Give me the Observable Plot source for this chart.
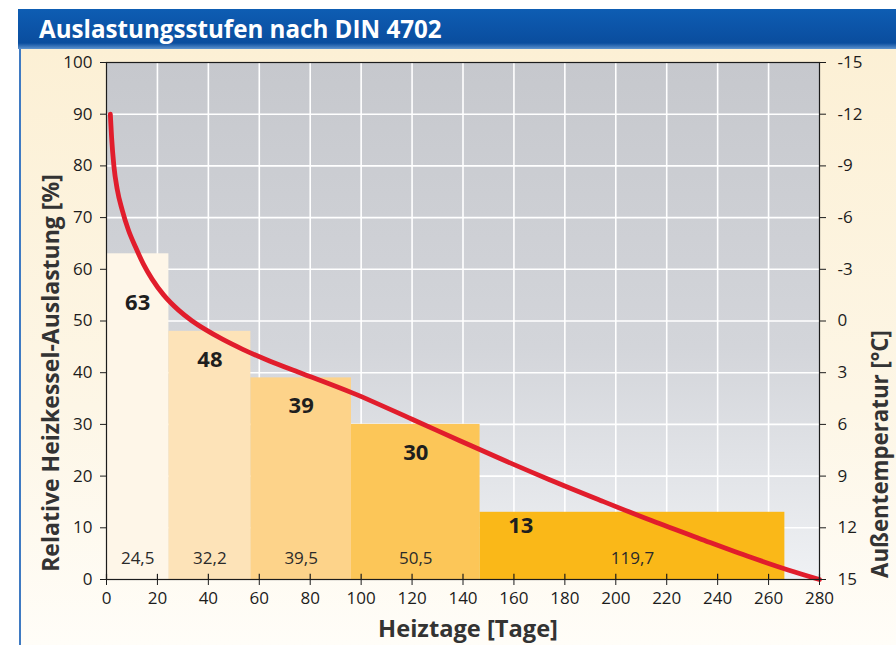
<!DOCTYPE html>
<html><head><meta charset="utf-8">
<script src="https://cdn.jsdelivr.net/npm/d3@7"></script>
<script src="https://cdn.jsdelivr.net/npm/@observablehq/plot@0.6"></script>
<style>
html,body{margin:0;padding:0;background:#fff;width:896px;height:645px;overflow:hidden;font-family:"Open Sans",sans-serif;}
#title{position:absolute;left:18px;top:9px;width:878px;height:40px;box-sizing:border-box;
  background:linear-gradient(#0e5db3,#0a4d9e 85%,#5d93cf);color:#fff;font-weight:700;
  line-height:39px;padding-left:21px;white-space:nowrap;}
#chart{position:absolute;left:19px;top:49px;width:877px;height:596px;border-left:2px solid #3f7ac2;}
#chart svg{display:block;}
</style></head>
<body>
<div id="title">Auslastungsstufen nach DIN 4702</div>
<div id="chart"></div>
<script>
// ---- data ----
const titleText = "Auslastungsstufen nach DIN 4702";
const xLabel = "Heiztage [Tage]";
const yLabel = "Relative Heizkessel-Auslastung [%]";
const y2Label = "Außentemperatur [°C]";
const barWidths = [24.5, 32.2, 39.5, 50.5, 119.7];   // Heiztage per stage
const barLoads  = [63, 48, 39, 30, 13];               // relative load %
const barColors = ["#fef6e8", "#fde3b8", "#fdd38a", "#fcc658", "#fab818"];
const xTicks = [0, 20, 40, 60, 80, 100, 120, 140, 160, 180, 200, 220, 240, 260, 280];
const yTicks = [0, 10, 20, 30, 40, 50, 60, 70, 80, 90, 100];
const tempTicks = [15, 12, 9, 6, 3, 0, -3, -6, -9, -12, -15];
const curveDays = [1.5, 2, 2.9, 4.2, 6.2, 8.6, 11.4, 14.5, 17.9, 22.5, 28.4, 33.5, 38.9, 45.5, 53.3, 64, 76, 97, 120, 139, 155, 174, 194, 214, 233, 253, 268, 280];
const curveLoad = [90, 85.5, 80, 75.5, 71.4, 67.6, 64.3, 61, 58.1, 55, 52.05, 50.06, 48.33, 46.48, 44.57, 42.27, 40, 36, 31, 26.8, 23.3, 19.3, 15.3, 11.4, 7.9, 4.3, 1.8, 0];

// ---- helpers ----
const tempToLoad = t => (15 - t) / 0.3;
const loadToTemp = y => Math.round(15 - 0.3 * y);
const ctx = document.createElement("canvas").getContext("2d");
function fitSize(text, target) {
  ctx.font = '700 100px "Open Sans"';
  return 100 * target / ctx.measureText(text).width;
}
let acc = 0;
const bars = barWidths.map((w, i) => {
  const b = {x1: acc, x2: acc + w, width: w, load: barLoads[i], color: barColors[i], i};
  acc += w; return b;
});
const curve = curveDays.map((d, i) => ({day: d, load: curveLoad[i]}));
const fmtDe = v => String(v).replace(".", ",");

const titleEl = document.getElementById("title");
titleEl.textContent = titleText;
titleEl.style.fontSize = fitSize(titleText, 403) + "px";

const W = 877, H = 596;
const plot = Plot.plot({
  width: W, height: H,
  marginLeft: 85, marginRight: 79, marginTop: 13, marginBottom: 66,
  style: {background: "linear-gradient(#fcf0d5, #fdf6e6 60%, #fffdf8)", color: "#1c1c1c", fontFamily: "'Open Sans', sans-serif", overflow: "visible"},
  x: {domain: [0, 280], axis: null},
  y: {domain: [0, 100], axis: null},
  color: {type: "identity"},
  marks: [
    Plot.frame({fill: "url(#plotbg)"}),
    Plot.ruleX(xTicks.filter(d => d > 0 && d < 280), {x: d => d, stroke: "#fff", strokeWidth: 1.6}),
    Plot.ruleY(yTicks.filter(d => d > 0 && d < 100), {y: d => d, stroke: "#fff", strokeWidth: 1.6}),
    Plot.rectY(bars, {x1: "x1", x2: "x2", y1: 0, y2: "load", fill: "color"}),
    Plot.text(bars, {x: d => (d.x1 + d.x2) / 2, y: 4, text: d => fmtDe(d.width), fontSize: 17, fill: "#2a2a2a"}),
    Plot.text(bars, {
      x: d => d.width > 100 ? d.x1 + 16 : (d.x1 + d.x2) / 2,
      y: d => d.load - (d.i === 0 ? 9.6 : d.i === 4 ? 2.6 : 5.5),
      text: d => String(d.load), fontSize: 22, fontWeight: 700, fill: "#1e1e1e"}),
    Plot.line(curve, {x: "day", y: "load", stroke: "#e11d2c", strokeWidth: 4.8, curve: "monotone-x"}),
    Plot.frame({stroke: "#1c1c1c", strokeWidth: 1.2}),
    Plot.ruleX(xTicks, {x: d => d, y1: 0, y2: 1, stroke: "#1c1c1c", strokeWidth: 1.2}),
    Plot.axisX({ticks: xTicks, tickSize: 6, tickPadding: 6, fontSize: 17, label: null, tickFormat: d => String(d)}),
    Plot.axisY({anchor: "left", ticks: yTicks, tickSize: 6, tickPadding: 8, fontSize: 17, label: null, tickFormat: d => String(d)}),
    Plot.axisY({anchor: "right", ticks: tempTicks.map(tempToLoad), tickSize: 6, tickPadding: 12, fontSize: 17, label: null, tickFormat: loadToTemp}),
    Plot.text([yLabel], {frameAnchor: "left", text: d => d, textAnchor: "middle", rotate: -90, dx: -55, dy: 52, fontSize: fitSize(yLabel, 398), fontWeight: 700, fill: "#333"}),
    Plot.text([y2Label], {frameAnchor: "right", text: d => d, textAnchor: "middle", rotate: -90, dx: 61, dy: 133, fontSize: fitSize(y2Label, 248), fontWeight: 700, fill: "#333"}),
    Plot.text([xLabel], {frameAnchor: "bottom", text: d => d, textAnchor: "middle", dx: 5, dy: 57, fontSize: fitSize(xLabel, 180), fontWeight: 700, fill: "#333"})
  ]
});

// gradient for plot background
const svg = d3.select(plot);
const defs = svg.insert("defs", ":first-child");
const g = defs.append("linearGradient").attr("id", "plotbg").attr("x1", 0).attr("y1", 0).attr("x2", 0).attr("y2", 1);
g.append("stop").attr("offset", "0%").attr("stop-color", "#c6c8cd");
g.append("stop").attr("offset", "55%").attr("stop-color", "#d3d5da");
g.append("stop").attr("offset", "100%").attr("stop-color", "#eff1f4");
document.getElementById("chart").appendChild(plot);
</script>
</body></html>
